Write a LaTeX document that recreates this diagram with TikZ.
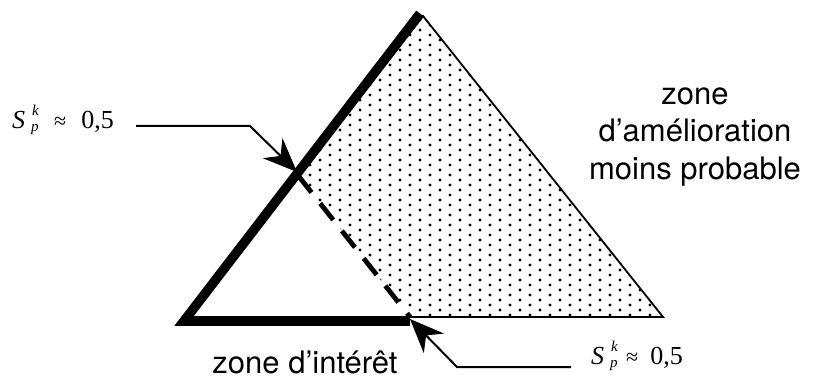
\documentclass[tikz,border=0pt]{standalone}
\usepackage{fontspec}
\setmainfont{TeX Gyre Heros}
\newfontfamily\tms{Liberation Serif}
\usetikzlibrary{arrows.meta}
\begin{document}
\begin{tikzpicture}[x=1pt,y=-1pt,
  thinedge/.style={line width=1.8pt, line join=miter},
  thickedge/.style={line width=9.5pt, line join=miter, line cap=butt},
  dashedge/.style={line width=4.8pt, dash pattern=on 21pt off 14pt},
  pointer/.style={line width=2pt, line join=miter, -{Stealth[length=34pt,width=28pt,inset=11pt]}},
  zonetext/.style={font=\fontsize{31}{37.5}\selectfont, align=center, inner sep=0pt},
  eqtext/.style={font=\tms\fontsize{26}{26}\selectfont, inner sep=0pt, anchor=base west},
  scripttext/.style={font=\tms\itshape\fontsize{15}{15}\selectfont, inner sep=0pt, anchor=base west},
  dotfill/.style={fill=black}]
\useasboundingbox (0,0) rectangle (819,379);
% triangle
\coordinate (A) at (189,317);
\coordinate (B) at (423,16);
\coordinate (C) at (663,317);
\coordinate (D) at (410,317);
\coordinate (P) at (298.5,176);
% thick edges (outside of the outline)
\coordinate (Ak) at (184,321);
\coordinate (Bk) at (420,13.5);
\coordinate (Dk) at (410,321);
% dotted region
\begin{scope}
  \clip (P) -- (B) -- (C) -- (D) -- cycle;
  \foreach \i in {29,...,67}{
    \foreach \j in {0,...,32}{
      \fill[dotfill] ({10*\i},{10*\j+5*mod(\i,2)}) circle (1.7pt);
    }
  }
\end{scope}
\draw[thinedge] (A) -- (B) -- (C) -- cycle;
\draw[thickedge] (Bk) -- (Ak) -- (Dk);
\draw[dashedge] (P) -- (D);
% labels: S with stacked scripts, then "≈ 0,5"
\node[eqtext] (S1) at (12,129) {\itshape S};
\node[scripttext] (k1s) at (32,116) {k};
\node[scripttext] (p1s) at (31,132) {p};
\node[eqtext] (lab1) at (54,129) {{\fontsize{22}{22}\selectfont ≈}\hspace{15pt}0,5};
\node[eqtext] (S2) at (591,364) {\itshape S};
\node[scripttext] (k2s) at (611,351) {k};
\node[scripttext] (p2s) at (610,367) {p};
\node[eqtext] (lab2) at (626,364) {{\fontsize{22}{22}\selectfont ≈}\hspace{12pt}0,5};
% pointers
\coordinate (s1) at (136,126);
\coordinate (k1) at (250,126);
\coordinate (t1) at (297,172);
\draw[pointer] (s1) -- (k1) -- (t1);
\coordinate (s2) at (571,367);
\coordinate (k2) at (457,367);
\coordinate (t2) at (410,319);
\draw[pointer] (s2) -- (k2) -- (t2);
% zone texts
\node[zonetext, anchor=base] (zi) at (305,373) {zone d’intérêt};
\node[zonetext] (zam) at (695,137) {zone\\d’amélioration\\moins probable};
\end{tikzpicture}
\end{document}
